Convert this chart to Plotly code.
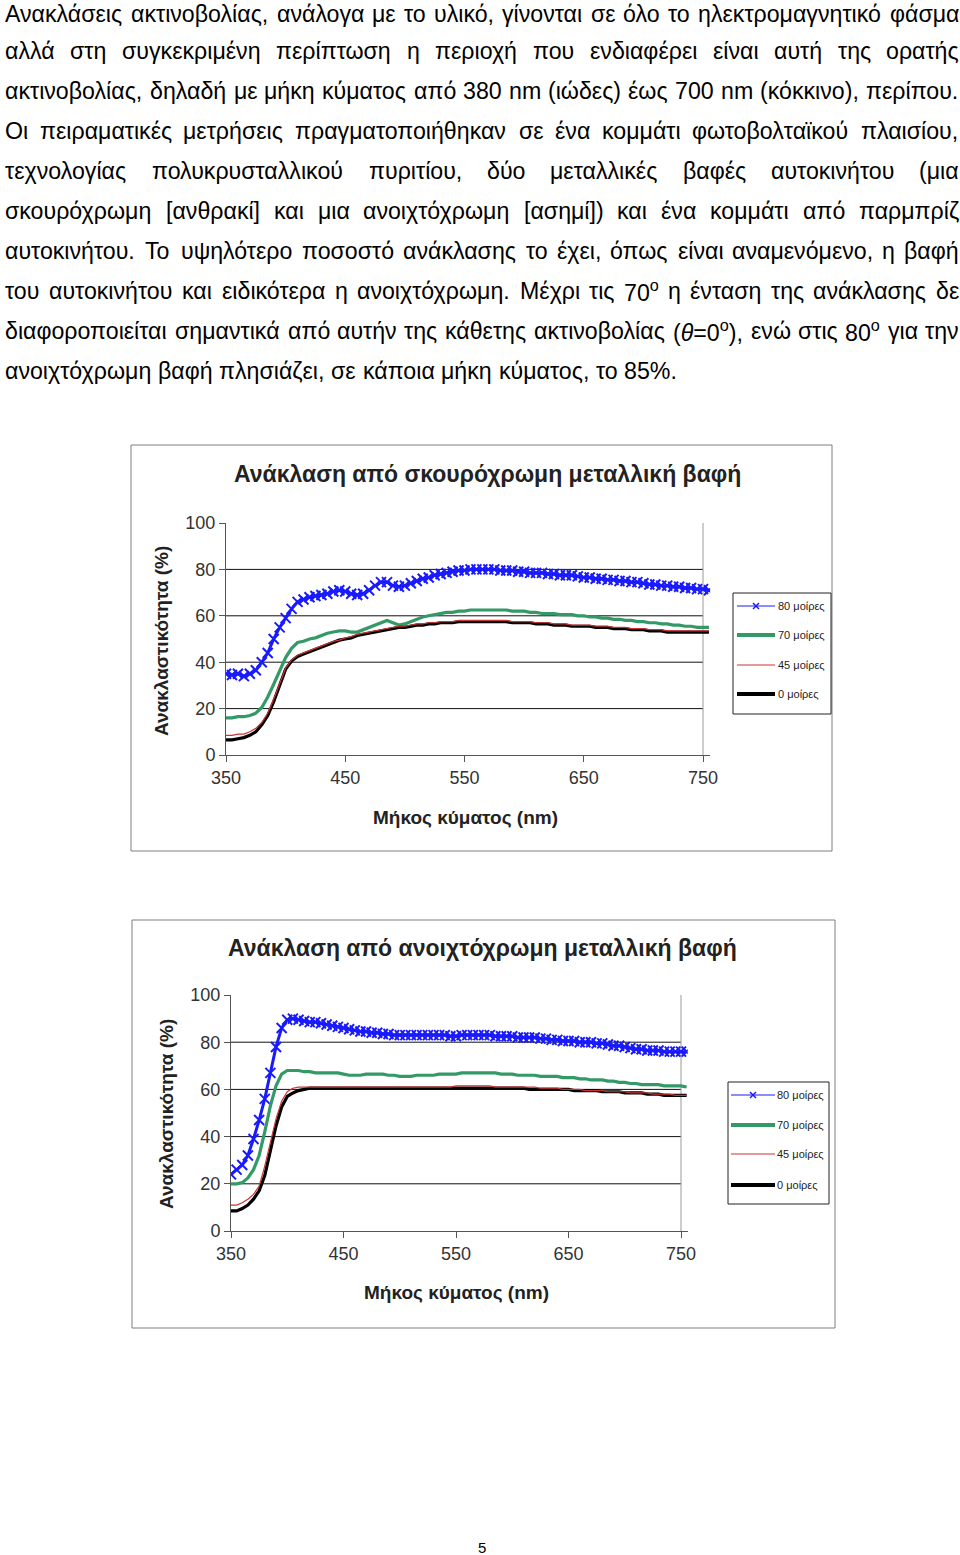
import glob
import struct
import plotly.graph_objects as go

# ---------------------------------------------------------------- data
WAVELENGTH = [350, 355, 360, 365, 370, 375, 380, 385, 390, 395,
              400, 405, 410, 415, 420, 425, 430, 435, 440, 445,
              450, 455, 460, 465, 470, 475, 480, 485, 490, 495,
              500, 505, 510, 515, 520, 525, 530, 535, 540, 545,
              550, 555, 560, 565, 570, 575, 580, 585, 590, 595,
              600, 605, 610, 615, 620, 625, 630, 635, 640, 645,
              650, 655, 660, 665, 670, 675, 680, 685, 690, 695,
              700, 705, 710, 715, 720, 725, 730, 735, 740, 745,
              750, 755]

# dark (charcoal) metallic paint
DARK_80 = [35, 34.5, 35, 34, 35, 36.5, 40, 44, 50, 55,
           59, 63, 66, 67, 68, 68.5, 69, 69.5, 70.5, 71,
           70.5, 69.5, 69, 69.5, 71, 73, 74.5, 74.5, 73, 72.5,
           73, 74, 75, 76, 76.5, 77.5, 78, 78.5, 79, 79.5,
           79.5, 80, 80, 80, 80, 80, 79.5, 79.5, 79.5, 79,
           79, 78.5, 78.5, 78.5, 78, 78, 77.5, 77.5, 77.5, 77,
           76.5, 76.5, 76, 76, 75.5, 75.5, 75, 75, 74.5, 74.5,
           74, 73.5, 73.5, 73, 73, 72.5, 72.5, 72, 72, 71.5,
           71.5, 71]
DARK_70 = [16, 16, 16.5, 16.5, 17, 18, 20.5, 25, 30.5, 36.5,
           42, 46, 48.5, 49, 50, 50.5, 51.5, 52.5, 53, 53.5,
           53.5, 53, 53, 54, 55, 56, 57, 58, 57, 56,
           56.5, 57.5, 58.5, 59.5, 60, 60.5, 61, 61.5, 61.5, 62,
           62, 62.5, 62.5, 62.5, 62.5, 62.5, 62.5, 62.5, 62, 62,
           62, 61.5, 61.5, 61, 61, 61, 60.5, 60.5, 60.5, 60,
           60, 59.5, 59.5, 59, 59, 58.5, 58.5, 58, 58, 57.5,
           57.5, 57, 57, 56.5, 56.5, 56, 56, 55.5, 55.5, 55,
           55, 55]
DARK_45 = [8.5, 8.5, 9, 9, 10, 11.5, 14, 18, 24, 31,
           37.5, 41, 43, 44, 45, 46, 47, 48, 49, 49.5,
           50.5, 51, 52, 52.5, 53, 53.5, 54, 54.5, 55, 55.5,
           55.5, 56, 56.5, 56.5, 57, 57, 57.5, 57.5, 57.5, 58,
           58, 58, 58, 58, 58, 58, 58, 58, 57.5, 57.5,
           57.5, 57.5, 57, 57, 57, 56.5, 56.5, 56.5, 56, 56,
           56, 56, 55.5, 55.5, 55.5, 55, 55, 55, 54.5, 54.5,
           54.5, 54, 54, 54, 53.5, 53.5, 53.5, 53.5, 53.5, 53.5,
           53.5, 53.5]
DARK_0 = [6.5, 6.5, 7, 7.5, 8.5, 10, 13, 17, 23, 30.5,
          37, 40.5, 42.5, 43.5, 44.5, 45.5, 46.5, 47.5, 48.5, 49.5,
          50, 50.5, 51.5, 52, 52.5, 53, 53.5, 54, 54.5, 55,
          55, 55.5, 56, 56, 56.5, 56.5, 57, 57, 57, 57.5,
          57.5, 57.5, 57.5, 57.5, 57.5, 57.5, 57.5, 57.5, 57, 57,
          57, 57, 56.5, 56.5, 56.5, 56, 56, 56, 55.5, 55.5,
          55.5, 55.5, 55, 55, 55, 54.5, 54.5, 54.5, 54, 54,
          54, 53.5, 53.5, 53.5, 53, 53, 53, 53, 53, 53,
          53, 53]

# light (silver) metallic paint
LIGHT_80 = [24, 26, 28, 32, 39, 47, 56, 67, 78, 86,
            89.5, 90, 89.5, 89, 88.5, 88.5, 88, 87.5, 87, 86.5,
            86, 85.5, 85, 84.5, 84.5, 84, 84, 83.5, 83.5, 83,
            83, 83, 83, 83, 83, 83, 83, 83, 83, 82.5,
            82.5, 83, 83, 83, 83, 83, 83, 82.5, 82.5, 82.5,
            82.5, 82, 82, 82, 82, 81.5, 81.5, 81, 81, 80.5,
            80.5, 80.5, 80, 80, 80, 79.5, 79.5, 79, 78.5, 78.5,
            78, 77.5, 77, 77, 76.5, 76.5, 76.5, 76, 76, 76,
            76, 76]
LIGHT_70 = [20, 20, 20.5, 22.5, 26, 32, 42, 53, 61.5, 66.5,
            68, 68, 68, 67.5, 67.5, 67, 67, 67, 67, 67,
            66.5, 66, 66, 66, 66.5, 66.5, 66.5, 66.5, 66, 66,
            65.5, 65.5, 65.5, 66, 66, 66, 66, 66.5, 66.5, 66.5,
            66.5, 67, 67, 67, 67, 67, 67, 67, 66.5, 66.5,
            66.5, 66, 66, 66, 66, 65.5, 65.5, 65.5, 65.5, 65,
            65, 65, 64.5, 64.5, 64, 64, 64, 63.5, 63.5, 63,
            63, 62.5, 62.5, 62, 62, 62, 62, 61.5, 61.5, 61.5,
            61.5, 61]
LIGHT_45 = [11, 11, 12, 13.5, 15.5, 19, 27.5, 37.5, 47.5, 55,
            59, 60.5, 61, 61, 61, 61, 61, 61, 61, 61,
            61, 61, 61, 61, 61, 61, 61, 61, 61, 61,
            61, 61, 61, 61, 61, 61, 61, 61, 61, 61,
            61.5, 61.5, 61.5, 61.5, 61.5, 61.5, 61.5, 61, 61, 61,
            61, 61, 61, 61, 61, 60.5, 60.5, 60.5, 60.5, 60,
            60, 60, 60, 59.5, 59.5, 59.5, 59.5, 59, 59, 59,
            59, 58.5, 58.5, 58.5, 58.5, 58, 58, 58, 58, 57.5,
            57.5, 57.5]
LIGHT_0 = [8.5, 8.5, 9.5, 11, 13.5, 17, 23.5, 34, 44.5, 52.5,
           57, 58.5, 59.5, 60, 60.5, 60.5, 60.5, 60.5, 60.5, 60.5,
           60.5, 60.5, 60.5, 60.5, 60.5, 60.5, 60.5, 60.5, 60.5, 60.5,
           60.5, 60.5, 60.5, 60.5, 60.5, 60.5, 60.5, 60.5, 60.5, 60.5,
           60.5, 60.5, 60.5, 60.5, 60.5, 60.5, 60.5, 60.5, 60.5, 60.5,
           60.5, 60.5, 60.5, 60, 60, 60, 60, 60, 60, 60,
           60, 59.5, 59.5, 59.5, 59.5, 59.5, 59, 59, 59, 59,
           58.5, 58.5, 58.5, 58.5, 58, 58, 58, 57.5, 57.5, 57.5,
           57.5, 57.5]

SERIES_NAMES = ["80 μοίρες", "70 μοίρες", "45 μοίρες", "0 μοίρες"]
X_TICKS = [350, 450, 550, 650, 750]
Y_TICKS = [0, 20, 40, 60, 80, 100]
GRID_VALUES = [20, 40, 60, 80]

TITLE_DARK = "Ανάκλαση από σκουρόχρωμη μεταλλική βαφή"
TITLE_LIGHT = "Ανάκλαση από ανοιχτόχρωμη μεταλλική βαφή"
X_TITLE = "Μήκος κύματος (nm)"
Y_TITLE = "Ανακλαστικότητα (%)"

PARAGRAPH_LINES = [
    "Ανακλάσεις ακτινοβολίας, ανάλογα με το υλικό, γίνονται σε όλο το ηλεκτρομαγνητικό φάσμα",
    "αλλά στη συγκεκριμένη περίπτωση η περιοχή που ενδιαφέρει είναι αυτή της ορατής",
    "ακτινοβολίας, δηλαδή με μήκη κύματος από 380 nm (ιώδες) έως 700 nm (κόκκινο), περίπου.",
    "Οι πειραματικές μετρήσεις πραγματοποιήθηκαν σε ένα κομμάτι φωτοβολταϊκού πλαισίου,",
    "τεχνολογίας πολυκρυσταλλικού πυριτίου, δύο μεταλλικές βαφές αυτοκινήτου (μια",
    "σκουρόχρωμη [ανθρακί] και μια ανοιχτόχρωμη [ασημί]) και ένα κομμάτι από παρμπρίζ",
    "αυτοκινήτου. Το υψηλότερο ποσοστό ανάκλασης το έχει, όπως είναι αναμενόμενο, η βαφή",
    "του αυτοκινήτου και ειδικότερα η ανοιχτόχρωμη. Μέχρι τις 70<sup>o</sup> η ένταση της ανάκλασης δε",
    "διαφοροποιείται σημαντικά από αυτήν της κάθετης ακτινοβολίας (<i>θ</i>=0<sup>o</sup>), ενώ στις 80<sup>o</sup> για την",
    "ανοιχτόχρωμη βαφή πλησιάζει, σε κάποια μήκη κύματος, το 85%.",
]
PAGE_NUMBER = "5"

# ---------------------------------------------------------------- helpers
W, H = 960, 1555
FONT = "Liberation Sans, Arial, sans-serif"


def px(x):
    return x / W


def py(y):
    return 1 - y / H


def load_width_fn():
    paths = (glob.glob("/usr/share/fonts/**/LiberationSans-Regular.ttf", recursive=True)
             + glob.glob("/usr/local/share/fonts/**/LiberationSans-Regular.ttf", recursive=True))
    if not paths:
        return lambda ch: 0.278 if ch == " " else 0.53
    try:
        data = open(paths[0], "rb").read()
        nt = struct.unpack(">H", data[4:6])[0]
        tables = {}
        for i in range(nt):
            tag, _cs, off, ln = struct.unpack(">4sIII", data[12 + 16 * i:28 + 16 * i])
            tables[tag.decode("latin1")] = (off, ln)
        off = tables["head"][0]
        upem = struct.unpack(">H", data[off + 18:off + 20])[0]
        off = tables["hhea"][0]
        nhm = struct.unpack(">H", data[off + 34:off + 36])[0]
        off = tables["hmtx"][0]
        adv = [struct.unpack(">H", data[off + 4 * i:off + 4 * i + 2])[0] for i in range(nhm)]
        coff = tables["cmap"][0]
        nsub = struct.unpack(">H", data[coff + 2:coff + 4])[0]
        cmap = {}
        for i in range(nsub):
            pid, eid, soff = struct.unpack(">HHI", data[coff + 4 + 8 * i:coff + 12 + 8 * i])
            st = coff + soff
            fmt = struct.unpack(">H", data[st:st + 2])[0]
            if pid == 3 and eid == 1 and fmt == 4:
                segx2 = struct.unpack(">H", data[st + 6:st + 8])[0]
                seg = segx2 // 2
                ends = struct.unpack(">%dH" % seg, data[st + 14:st + 14 + segx2])
                starts = struct.unpack(">%dH" % seg, data[st + 16 + segx2:st + 16 + 2 * segx2])
                deltas = struct.unpack(">%dh" % seg, data[st + 16 + 2 * segx2:st + 16 + 3 * segx2])
                rpos = st + 16 + 3 * segx2
                roffs = struct.unpack(">%dH" % seg, data[rpos:rpos + segx2])
                for s in range(seg):
                    for c in range(starts[s], ends[s] + 1):
                        if c == 0xFFFF:
                            continue
                        if roffs[s] == 0:
                            g = (c + deltas[s]) & 0xFFFF
                        else:
                            addr = rpos + 2 * s + roffs[s] + 2 * (c - starts[s])
                            g = struct.unpack(">H", data[addr:addr + 2])[0]
                            if g:
                                g = (g + deltas[s]) & 0xFFFF
                        cmap[c] = g
                break

        def wfn(ch):
            g = cmap.get(ord(ch), 0)
            return (adv[g] if g < len(adv) else adv[-1]) / upem
        return wfn
    except Exception:
        return lambda ch: 0.278 if ch == " " else 0.53


WIDTH = load_width_fn()


def text_width(s, size):
    """width of a word possibly containing <sup>..</sup> and <i>..</i>"""
    total = 0.0
    scale = 1.0
    i = 0
    while i < len(s):
        if s.startswith("<sup>", i):
            scale = 0.7
            i += 5
            continue
        if s.startswith("</sup>", i):
            scale = 1.0
            i += 6
            continue
        if s.startswith("<i>", i):
            i += 3
            continue
        if s.startswith("</i>", i):
            i += 4
            continue
        total += WIDTH(s[i]) * size * scale
        i += 1
    return total


def label(x, y, text, size, color="#222222", xanchor="center", yanchor="middle", angle=0):
    return dict(x=px(x), y=py(y), xref="paper", yref="paper", xanchor=xanchor, yanchor=yanchor,
                text=text, showarrow=False, borderpad=0, textangle=angle,
                font=dict(family=FONT, size=size, color=color))


fig = go.Figure()

# ---------------------------------------------------------------- paragraph
LEFT, RIGHT = 4, 958
ref_w = text_width(PARAGRAPH_LINES[-1], 21)
BODY_SIZE = max(18.0, min(24.0, 21 * 672 / ref_w)) if ref_w > 0 else 21
annotations = []
for k, line in enumerate(PARAGRAPH_LINES):
    yc = 11 + 40 * k if k else 14
    words = line.split(" ")
    widths = [text_width(w, BODY_SIZE) for w in words]
    if k == len(PARAGRAPH_LINES) - 1:
        gap = WIDTH(" ") * BODY_SIZE
    else:
        gap = (RIGHT - LEFT - sum(widths)) / (len(words) - 1)
        gap = max(gap, 0.14 * BODY_SIZE)
    x = LEFT
    for w, ww in zip(words, widths):
        annotations.append(label(x, yc, w, BODY_SIZE, color="#000000", xanchor="left"))
        x += ww + gap

annotations.append(label(482, 1547, PAGE_NUMBER, 15, color="#000000"))

# ---------------------------------------------------------------- charts
STYLES = [
    dict(color="#1a1aff", width=3, marker=True),
    dict(color="#339966", width=3.2, marker=False),
    dict(color="#cc3333", width=1.2, marker=False),
    dict(color="#000000", width=3.2, marker=False),
]
DRAW_ORDER = [0, 1, 3, 2]

charts = [
    dict(series=[DARK_80, DARK_70, DARK_45, DARK_0], title=TITLE_DARK,
         frame=(131, 445, 832, 851), x350=226, x750=703, y0=755, y100=523,
         title_pos=(487, 474), ytitle_pos=(161, 641), xtitle_pos=(465, 817),
         legend_box=(733, 593, 831, 714), legend_rows=[606, 635, 665, 694],
         legend_line=(737, 775), legend_text_x=777),
    dict(series=[LIGHT_80, LIGHT_70, LIGHT_45, LIGHT_0], title=TITLE_LIGHT,
         frame=(132, 920, 835, 1328), x350=231, x750=681, y0=1231, y100=995,
         title_pos=(482, 948), ytitle_pos=(166, 1114), xtitle_pos=(456, 1292),
         legend_box=(728, 1082, 829, 1204), legend_rows=[1095, 1125, 1154, 1185],
         legend_line=(731, 775), legend_text_x=776),
]

shapes = []
XMAX = 756
for ci, ch in enumerate(charts):
    xa = "x" if ci == 0 else "x2"
    ya = "y" if ci == 0 else "y2"
    ppn = (ch["x750"] - ch["x350"]) / 400.0
    xright = ch["x350"] + (XMAX - 350) * ppn
    axis_kw = dict(showgrid=False, zeroline=False, showline=True, linecolor="#555555",
                   linewidth=1, ticks="outside", ticklen=6, tickcolor="#555555",
                   automargin=False,
                   tickfont=dict(family=FONT, size=18, color="#333333"))
    fig.update_layout(**{
        ("xaxis" if ci == 0 else "xaxis2"): dict(
            domain=[px(ch["x350"]), px(xright)], range=[350, XMAX], tickvals=X_TICKS,
            anchor=ya, **axis_kw),
        ("yaxis" if ci == 0 else "yaxis2"): dict(
            domain=[py(ch["y0"]), py(ch["y100"])], range=[0, 100], tickvals=Y_TICKS,
            anchor=xa, **axis_kw),
    })
    for g in GRID_VALUES:
        shapes.append(dict(type="line", xref=xa, yref=ya, x0=350, x1=750, y0=g, y1=g,
                           line=dict(color="#111111", width=1), layer="below"))
    shapes.append(dict(type="line", xref=xa, yref=ya, x0=750, x1=750, y0=0, y1=100,
                       line=dict(color="#9a9a9a", width=1), layer="below"))
    for si in DRAW_ORDER:
        st = STYLES[si]
        kw = dict(x=WAVELENGTH, y=ch["series"][si], xaxis=xa, yaxis=ya, name=SERIES_NAMES[si],
                  showlegend=False, line=dict(color=st["color"], width=st["width"]))
        if st["marker"]:
            kw["mode"] = "lines+markers"
            kw["marker"] = dict(symbol="x-thin", size=10,
                                line=dict(color=st["color"], width=2), color=st["color"])
        else:
            kw["mode"] = "lines"
        fig.add_trace(go.Scatter(**kw))

    fx0, fy0, fx1, fy1 = ch["frame"]
    shapes.append(dict(type="rect", xref="paper", yref="paper", x0=px(fx0), x1=px(fx1),
                       y0=py(fy0), y1=py(fy1), line=dict(color="#7f7f7f", width=1)))
    annotations.append(label(*ch["title_pos"], "<b>%s</b>" % ch["title"], 23))
    annotations.append(label(*ch["ytitle_pos"], "<b>%s</b>" % Y_TITLE, 19, angle=-90))
    annotations.append(label(*ch["xtitle_pos"], "<b>%s</b>" % X_TITLE, 19))
    lx0, ly0, lx1, ly1 = ch["legend_box"]
    shapes.append(dict(type="rect", xref="paper", yref="paper", x0=px(lx0), x1=px(lx1),
                       y0=py(ly0), y1=py(ly1), line=dict(color="#222222", width=1)))
    la, lb = ch["legend_line"]
    for si, row in enumerate(ch["legend_rows"]):
        st = STYLES[si]
        lw = 4 if st["width"] > 3.1 else (1 if si == 2 else 1.2)
        shapes.append(dict(type="line", xref="paper", yref="paper", x0=px(la), x1=px(lb),
                           y0=py(row), y1=py(row), line=dict(color=st["color"], width=lw)))
        if st["marker"]:
            mx = (la + lb) / 2
            for d in (-1, 1):
                shapes.append(dict(type="line", xref="paper", yref="paper",
                                   x0=px(mx - 3), x1=px(mx + 3), y0=py(row - 3 * d), y1=py(row + 3 * d),
                                   line=dict(color=st["color"], width=1.5)))
        annotations.append(label(ch["legend_text_x"], row, SERIES_NAMES[si], 11, xanchor="left"))

fig.update_layout(
    width=W, height=H, autosize=False,
    margin=dict(l=0, r=0, t=0, b=0, pad=0, autoexpand=False),
    paper_bgcolor="white", plot_bgcolor="rgba(0,0,0,0)",
    showlegend=False,
    shapes=shapes, annotations=annotations,
)

fig.write_html("out.html", config={"displayModeBar": False})
